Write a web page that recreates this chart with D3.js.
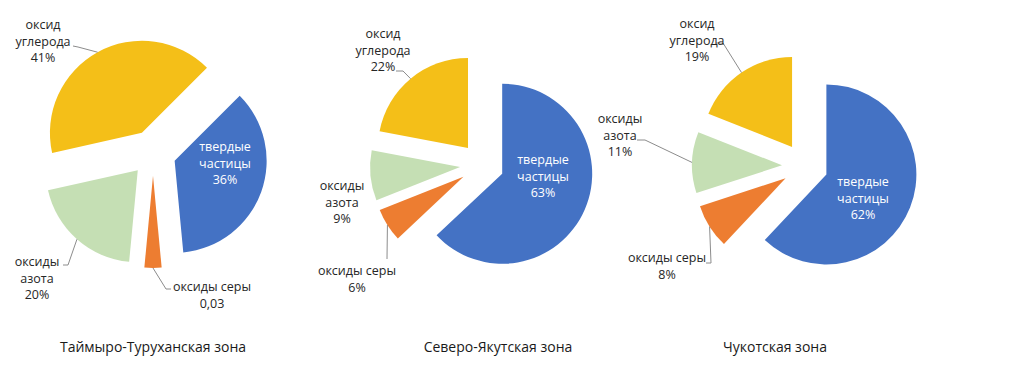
<!DOCTYPE html>
<html>
<head>
<meta charset="utf-8">
<script src="https://cdn.jsdelivr.net/npm/d3@7"></script>
<style>
  body { margin: 0; background: #fff; }
  text { font-family: "Open Sans", "Liberation Sans", sans-serif; }
</style>
</head>
<body>
<div id="chart"></div>
<script>
// emissions structure by zone, percent
var categories = ["твердые частицы", "оксиды серы", "оксиды азота", "оксид углерода"];
var categoryLines = [["твердые", "частицы"], ["оксиды серы"], ["оксиды", "азота"], ["оксид", "углерода"]];
var zones = ["Таймыро-Туруханская зона", "Северо-Якутская зона", "Чукотская зона"];
var taymyrValues = [36, 3, 20, 41];
var yakutValues = [63, 6, 9, 22];
var chukotValues = [62, 8, 11, 19];
var taymyrLabels = ["36%", "0,03", "20%", "41%"];
var yakutLabels = ["63%", "6%", "9%", "22%"];
var chukotLabels = ["62%", "8%", "11%", "19%"];

var colors = ["#4472C4", "#ED7D31", "#C5DFB4", "#F4BF18"];

// layout for each pie (first slice angle in degrees)
var pies = [
  { values: taymyrValues, labels: taymyrLabels, start: 45, cx: 153, cy: 153, r: 92, explode: 23,
    labelPos: [[225, 151], [212, 291], [37, 266], [43, 29]],
    leaders: [null, [[171, 289], [166, 289]], [[63, 265], [68, 265]], [[73, 46], [78, 47]]],
    titleX: 153 },
  { values: yakutValues, labels: yakutLabels, start: 0, cx: 482, cy: 165, r: 90, explode: 22,
    labelPos: [[543, 164], [357, 275], [342, 190], [383, 38]],
    leaders: [null, [[387, 259], [387, 259]], null, [[396, 71], [403, 71]]],
    titleX: 498 },
  { values: chukotValues, labels: chukotLabels, start: 0, cx: 805, cy: 166, r: 90, explode: 23,
    labelPos: [[863, 186], [667, 262], [620, 123], [697, 28]],
    leaders: [null, [[706, 263], [711, 263]], [[637, 140], [645, 140]], [[716, 43], [723, 43]]],
    titleX: 775 }
];

var svg = d3.select("#chart").append("svg")
  .attr("width", 1024)
  .attr("height", 368);

var lineH = 16.5;

pies.forEach(function(p, zi) {
  var pie = d3.pie().sort(null)
    .startAngle(p.start * Math.PI / 180)
    .endAngle(p.start * Math.PI / 180 + 2 * Math.PI);
  var arc = d3.arc().innerRadius(0).outerRadius(p.r);
  var arcs = pie(p.values);

  var g = svg.append("g").attr("transform", `translate(${p.cx},${p.cy})`);

  // exploded slices
  g.selectAll("path")
    .data(arcs)
    .enter()
    .append("path")
    .attr("d", arc)
    .attr("fill", (d, i) => colors[i])
    .attr("transform", function(d) {
      var mid = (d.startAngle + d.endAngle) / 2;
      return `translate(${Math.sin(mid) * p.explode},${-Math.cos(mid) * p.explode})`;
    });

  // leader lines to the middle of the outer arc
  arcs.forEach(function(d, i) {
    var pts = p.leaders[i];
    if (!pts) return;
    var mid = (d.startAngle + d.endAngle) / 2;
    var end = [p.cx + Math.sin(mid) * (p.explode + p.r), p.cy - Math.cos(mid) * (p.explode + p.r)];
    svg.append("path")
      .attr("d", d3.line()(pts.concat([end])))
      .attr("fill", "none")
      .attr("stroke", "#8c8c8c")
      .attr("stroke-width", 1);
  });

  // data labels
  arcs.forEach(function(d, i) {
    var lines = categoryLines[i].concat([p.labels[i]]);
    var t = svg.append("text")
      .attr("text-anchor", "middle")
      .attr("font-size", 12.5)
      .attr("fill", i === 0 ? "#ffffff" : "#262626");
    lines.forEach(function(s, k) {
      t.append("tspan")
        .attr("x", p.labelPos[i][0])
        .attr("y", p.labelPos[i][1] + k * lineH)
        .text(s);
    });
  });

  // zone title
  svg.append("text")
    .attr("x", p.titleX)
    .attr("y", 352)
    .attr("text-anchor", "middle")
    .attr("font-size", 14)
    .attr("fill", "#1a1a1a")
    .text(zones[zi]);
});
</script>
</body>
</html>
